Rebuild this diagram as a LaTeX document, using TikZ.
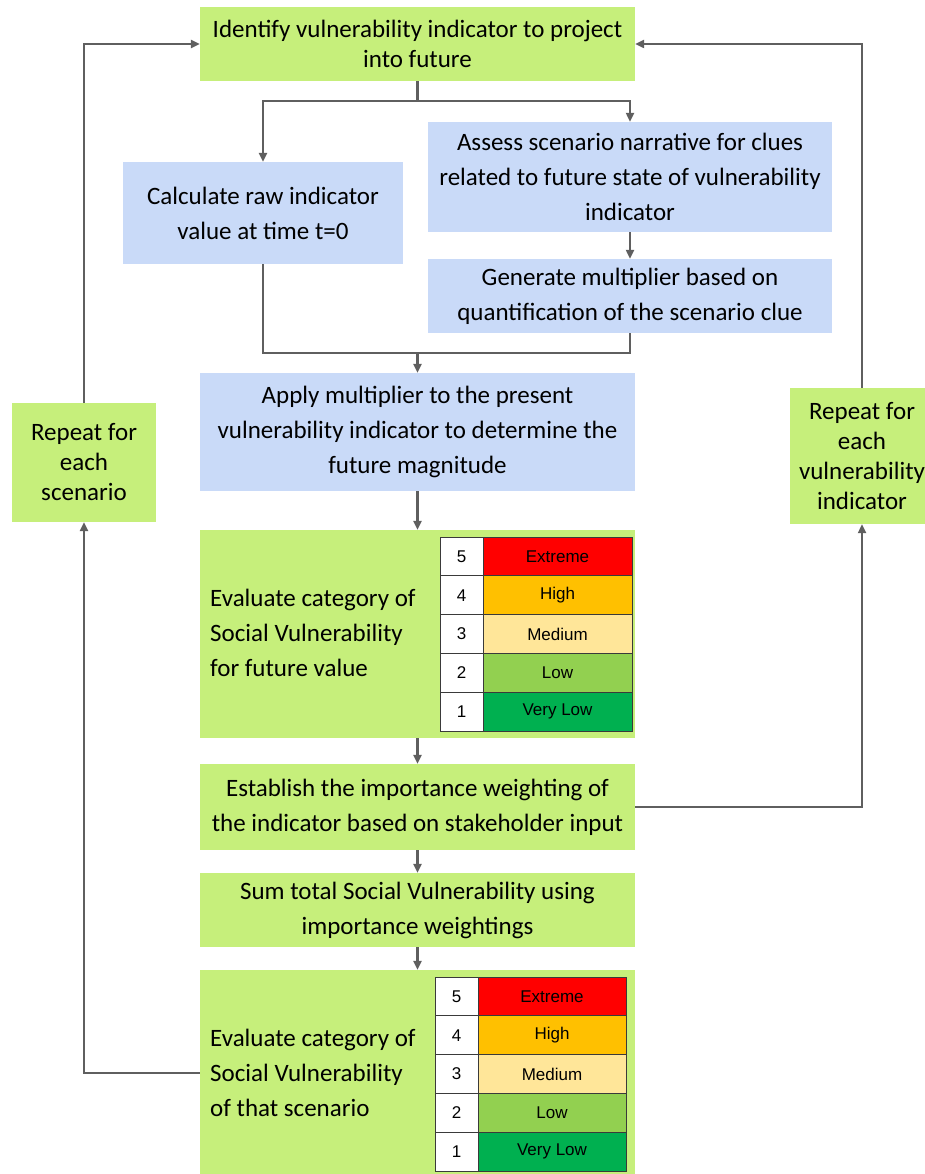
\documentclass[tikz,border=0pt]{standalone}
\usepackage{fontspec}
\setmainfont{Carlito}
\newfontfamily\tabfont{Liberation Sans}
\usetikzlibrary{arrows.meta}
\definecolor{boxgreen}{HTML}{C6EF7B}
\definecolor{boxblue}{HTML}{C9DAF8}
\definecolor{linegray}{HTML}{5F5F5F}
\definecolor{celledge}{HTML}{3A3A3A}
\definecolor{catext}{HTML}{FF0000}
\definecolor{cathigh}{HTML}{FFC000}
\definecolor{catmed}{HTML}{FFE699}
\definecolor{catlow}{HTML}{92D050}
\definecolor{catvlow}{HTML}{00B050}
\begin{document}
\begin{tikzpicture}[x=1pt,y=-1pt,
  box/.style={rectangle, inner sep=0pt, align=center, font=\fontsize{25}{35}\selectfont},
  gbox/.style={box, fill=boxgreen},
  bbox/.style={box, fill=boxblue},
  tight/.style={font=\fontsize{25}{30}\selectfont},
  lefttext/.style={anchor=west, inner sep=0pt, align=left, font=\fontsize{25}{35}\selectfont},
  flow/.style={draw=linegray, line width=2.2pt},
  arr/.style={flow, -{Triangle[length=9pt,width=8pt]}},
  numcell/.style={draw=celledge, line width=0.9pt, fill=white, inner sep=0pt,
    minimum width=43, minimum height=38.8, font=\tabfont\fontsize{17}{17}\selectfont},
  labcell/.style={draw=celledge, line width=0.9pt, inner sep=0pt,
    minimum height=38.8, font=\tabfont\fontsize{17}{17}\selectfont}
]
\useasboundingbox (0,0) rectangle (925,1174);

% process boxes
\node[gbox, tight, minimum width=435, minimum height=74] (top) at (417.5,44)
  {Identify vulnerability indicator to project\\into future};
\node[bbox, minimum width=280, minimum height=102] (calc) at (263,213)
  {Calculate raw indicator\\value at time t=0};
\node[bbox, minimum width=404, minimum height=110] (assess) at (630,177)
  {Assess scenario narrative for clues\\related to future state of vulnerability\\indicator};
\node[bbox, minimum width=404, minimum height=74] (gen) at (630,296)
  {Generate multiplier based on\\quantification of the scenario clue};
\node[bbox, minimum width=435, minimum height=118] (apply) at (417.5,432)
  {Apply multiplier to the present\\vulnerability indicator to determine the\\future magnitude};
\node[gbox, minimum width=435, minimum height=208] (evalA) at (417.5,634) {};
\node[lefttext] (evalAtxt) at (210,633)
  {Evaluate category of\\Social Vulnerability\\for future value};
\node[gbox, minimum width=435, minimum height=86] (weight) at (417.5,807)
  {Establish the importance weighting of\\the indicator based on stakeholder input};
\node[gbox, minimum width=435, minimum height=74] (sum) at (417.5,910)
  {Sum total Social Vulnerability using\\importance weightings};
\node[gbox, minimum width=435, minimum height=206] (evalB) at (417.5,1073) {};
\node[lefttext] (evalBtxt) at (210,1073)
  {Evaluate category of\\Social Vulnerability\\of that scenario};
\node[gbox, tight, minimum width=144, minimum height=119] (lrep) at (84,462.5)
  {Repeat for\\each\\scenario};
\node[gbox, tight, minimum width=144, minimum height=136] (rrep) at (862,456)
  {Repeat for\\each\\vulnerability\\indicator};

% category tables
\foreach \n/\lab/\col [count=\i from 0] in
  {5/Extreme/catext,4/High/cathigh,3/Medium/catmed,2/Low/catlow,1/Very Low/catvlow}{
  \node[numcell] (ta\n) at (461.5,{556.4+\i*38.8}) {\n};
  \node[labcell, fill=\col, minimum width=149] (tb\n) at (557.5,{556.4+\i*38.8}) {\lab};
  \node[numcell] (tc\n) at (456.5,{996.4+\i*38.8}) {\n};
  \node[labcell, fill=\col, minimum width=148] (td\n) at (552,{996.4+\i*38.8}) {\lab};
}

% connectors
\coordinate (split) at (417.5,101);
\coordinate (merge) at (417.5,353);
\draw[flow] (top.south) -- (split);
\draw[arr] (split) -| (calc.north);
\draw[arr] (split) -| (assess.north);
\draw[arr] (assess.south) -- (gen.north);
\draw[flow] (calc.south) |- (merge);
\draw[flow] (gen.south) |- (merge);
\draw[arr] (merge) -- (apply.north);
\draw[arr] (apply.south) -- (evalA.north);
\draw[arr] (evalA.south) -- (weight.north);
\draw[arr] (weight.south) -- (sum.north);
\draw[arr] (sum.south) -- (evalB.north);
% indicator loop
\draw[arr] (weight.east) -| (rrep.south);
\draw[arr] (rrep.north) |- (top.east);
% scenario loop
\draw[arr] (evalB.west) -| (lrep.south);
\draw[arr] (lrep.north) |- (top.west);
\end{tikzpicture}
\end{document}
